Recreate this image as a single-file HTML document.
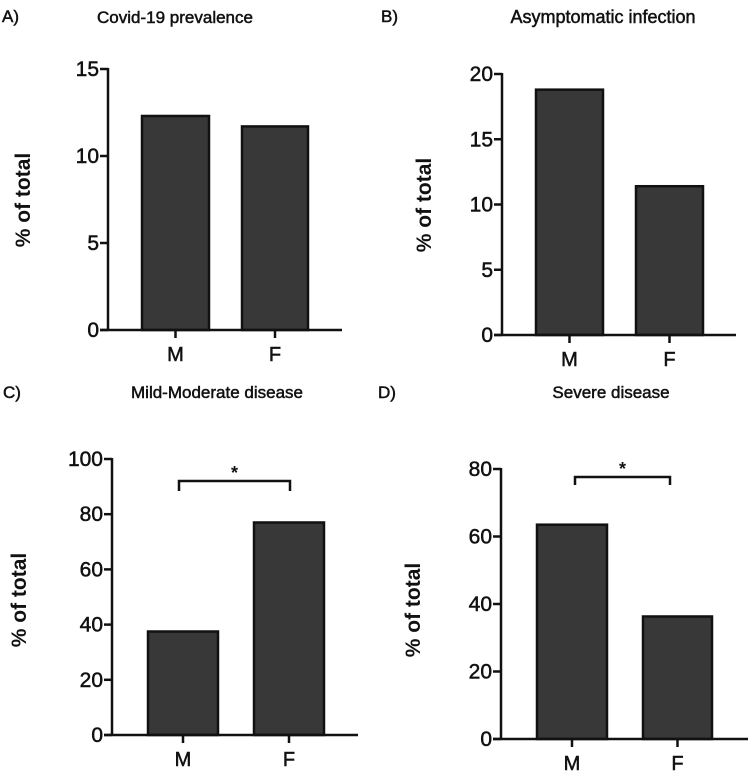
<!DOCTYPE html>
<html><head><meta charset="utf-8"><style>
body{margin:0;background:#fff;}
svg{display:block;font-family:"Liberation Sans",sans-serif;}
.heavy{stroke:#111;stroke-width:0.5px;}
</style></head><body>
<svg id="chart" width="749" height="774"></svg>
<script>
const categories = ["M","F"];
const valuesA = [12.3, 11.7];
const valuesB = [18.8, 11.4];
const valuesC = [37.5, 77.0];
const valuesD = [63.5, 36.3];
const ticksA = [0,5,10,15];
const ticksB = [0,5,10,15,20];
const ticksC = [0,20,40,60,80,100];
const ticksD = [0,20,40,60,80];
const titles = ["Covid-19 prevalence","Asymptomatic infection","Mild-Moderate disease","Severe disease"];
const letters = ["A)","B)","C)","D)"];

const NS="http://www.w3.org/2000/svg";
const svg=document.getElementById('chart');
function mk(tag,attrs,parent){const e=document.createElementNS(NS,tag);for(const k in attrs)e.setAttribute(k,attrs[k]);(parent||svg).appendChild(e);return e;}

const panels=[
 {vals:valuesA,ticks:ticksA,ax:108,y0:330,yTop:69,bars:[[142,209],[242,308]],xEnd:342,title:[175,23],letter:[2,22],ylab:[30,200],sig:null,id:"a"},
 {vals:valuesB,ticks:ticksB,ax:502,y0:335,yTop:74,bars:[[536,603],[636,703]],xEnd:736,title:[603,23],letter:[381,22],ylab:[431,205],sig:null,id:"b"},
 {vals:valuesC,ticks:ticksC,ax:112,y0:735,yTop:459,bars:[[148,218],[254,324]],xEnd:358,title:[217,398],letter:[3,398],ylab:[26,600],sig:{x1:179,x2:290,y:481,d:10},id:"c"},
 {vals:valuesD,ticks:ticksD,ax:501,y0:739,yTop:469,bars:[[537,607],[643,712]],xEnd:748,title:[611,398],letter:[378,398],ylab:[420,610],sig:{x1:575,x2:670,y:477,d:8},id:"d"}
];

panels.forEach((p,i)=>{
  const g=mk('g',{});
  
  
  const maxT=p.ticks[p.ticks.length-1];
  const yS=v=>p.y0-(v/maxT)*(p.y0-p.yTop);
  p.vals.forEach((v,j)=>{
    const b=p.bars[j];
    const r=mk('rect',{x:b[0],y:yS(v),width:b[1]-b[0],height:p.y0-yS(v),fill:'#383838',stroke:'#111','stroke-width':2.5},g);
    
    
    const cx=(b[0]+b[1])/2;
    mk('line',{x1:cx,x2:cx,y1:p.y0,y2:p.y0+8,stroke:'#111','stroke-width':2.5},g);
    const t=mk('text',{x:cx,y:p.y0+31,'text-anchor':'middle','font-size':20,fill:'#111',class:'heavy'},g);
    t.textContent=categories[j];
    
    
  });
  const ya=mk('line',{x1:p.ax,x2:p.ax,y1:p.yTop-1,y2:p.y0,stroke:'#111','stroke-width':2.5},g);
  
  
  const xa=mk('line',{x1:p.ax-8,x2:p.xEnd,y1:p.y0,y2:p.y0,stroke:'#111','stroke-width':2.5},g);
  
  
  p.ticks.forEach(tv=>{
    const y=yS(tv);
    mk('line',{x1:p.ax-8,x2:p.ax,y1:y,y2:y,stroke:'#111','stroke-width':2.5},g);
    const t=mk('text',{x:p.ax-9,y:y+7,'text-anchor':'end','font-size':21,fill:'#111',class:'heavy'},g);
    t.textContent=tv;
    
    
  });
  const yl=mk('text',{x:p.ylab[0],y:p.ylab[1],'text-anchor':'middle','font-size':21,'font-weight':'bold',fill:'#111',transform:`rotate(-90 ${p.ylab[0]} ${p.ylab[1]})`},g);
  yl.textContent='% of total';
  
  
  const tt=mk('text',{x:p.title[0],y:p.title[1],'text-anchor':'middle','font-size':i==1?18:17,fill:'#111',class:'heavy'},g);
  tt.textContent=titles[i];
  
  
  const lt=mk('text',{x:p.letter[0],y:p.letter[1],'font-size':17,fill:'#111',class:'heavy'},g);
  lt.textContent=letters[i];
  
  
  if(p.sig){
    const s=p.sig;
    const br=mk('path',{d:`M${s.x1} ${s.y+s.d} V${s.y} H${s.x2} V${s.y+s.d}`,fill:'none',stroke:'#111','stroke-width':2.5},g);
    
    
    const st=mk('text',{x:(s.x1+s.x2)/2,y:s.y-2,'text-anchor':'middle','font-size':18,'font-weight':'bold',fill:'#111'},g);
    st.textContent='*';
    
    
  }
});
</script>
</body></html>
